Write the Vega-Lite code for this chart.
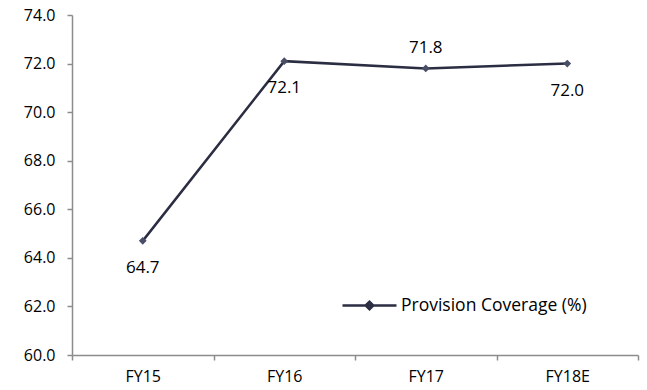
{
  "$schema": "https://vega.github.io/schema/vega-lite/v6.json",
  "width": 566,
  "height": 340,
  "autosize": {"type": "none"},
  "padding": {"left": 72, "top": 15, "right": 9, "bottom": 35},
  "background": "white",
  "config": {
    "font": "Open Sans",
    "view": {"stroke": null}
  },
  "data": {
    "values": [
      {"year": "FY15", "value": 64.7, "series": "Provision Coverage (%)"},
      {"year": "FY16", "value": 72.1, "series": "Provision Coverage (%)"},
      {"year": "FY17", "value": 71.8, "series": "Provision Coverage (%)"},
      {"year": "FY18E", "value": 72.0, "series": "Provision Coverage (%)"}
    ]
  },
  "encoding": {
    "x": {"field": "year", "type": "nominal", "sort": null,
      "axis": {"title": null, "grid": false, "labelAngle": 0, "tickBand": "extent", "tickSize": 5, "labelPadding": 8,
        "labelFontSize": 16, "labelColor": "#000000", "domainColor": "#8c8c8c", "tickColor": "#8c8c8c", "domainWidth": 1.5, "tickWidth": 1.5}},
    "y": {"field": "value", "type": "quantitative",
      "scale": {"domain": [60, 74], "nice": false, "zero": false},
      "axis": {"title": null, "grid": false, "values": [60, 62, 64, 66, 68, 70, 72, 74], "format": ".1f", "tickSize": 5, "labelPadding": 12,
        "labelFontSize": 16, "labelColor": "#000000", "domainColor": "#8c8c8c", "tickColor": "#8c8c8c", "domainWidth": 1.5, "tickWidth": 1.5}}
  },
  "layer": [
    {
      "mark": {"type": "line", "strokeWidth": 2.5, "color": "#2b2e42"},
      "encoding": {
        "color": {"field": "series", "type": "nominal",
          "scale": {"range": ["#2b2e42"]},
          "legend": {
            "orient": "none", "legendX": 269, "legendY": 262, "title": null,
            "symbolType": "M-1,0H1M-0.14,0L0,-0.14L0.14,0L0,0.14Z",
            "symbolSize": 2916, "symbolStrokeWidth": 2.5, "symbolFillColor": "#4a4e66",
            "labelFontSize": 17.5, "labelColor": "#000000", "labelOffset": 3, "labelLimit": 400
          }}
      }
    },
    {
      "mark": {"type": "point", "shape": "diamond", "filled": true, "size": 60, "color": "#4a4e66", "opacity": 1}
    },
    {
      "transform": [{"filter": "datum.year != 'FY17'"}],
      "mark": {"type": "text", "dy": 27, "fontSize": 17, "color": "#000000"},
      "encoding": {"text": {"field": "value", "type": "quantitative", "format": ".1f"}}
    },
    {
      "transform": [{"filter": "datum.year == 'FY17'"}],
      "mark": {"type": "text", "dy": -20, "fontSize": 17, "color": "#000000"},
      "encoding": {"text": {"field": "value", "type": "quantitative", "format": ".1f"}}
    }
  ]
}
